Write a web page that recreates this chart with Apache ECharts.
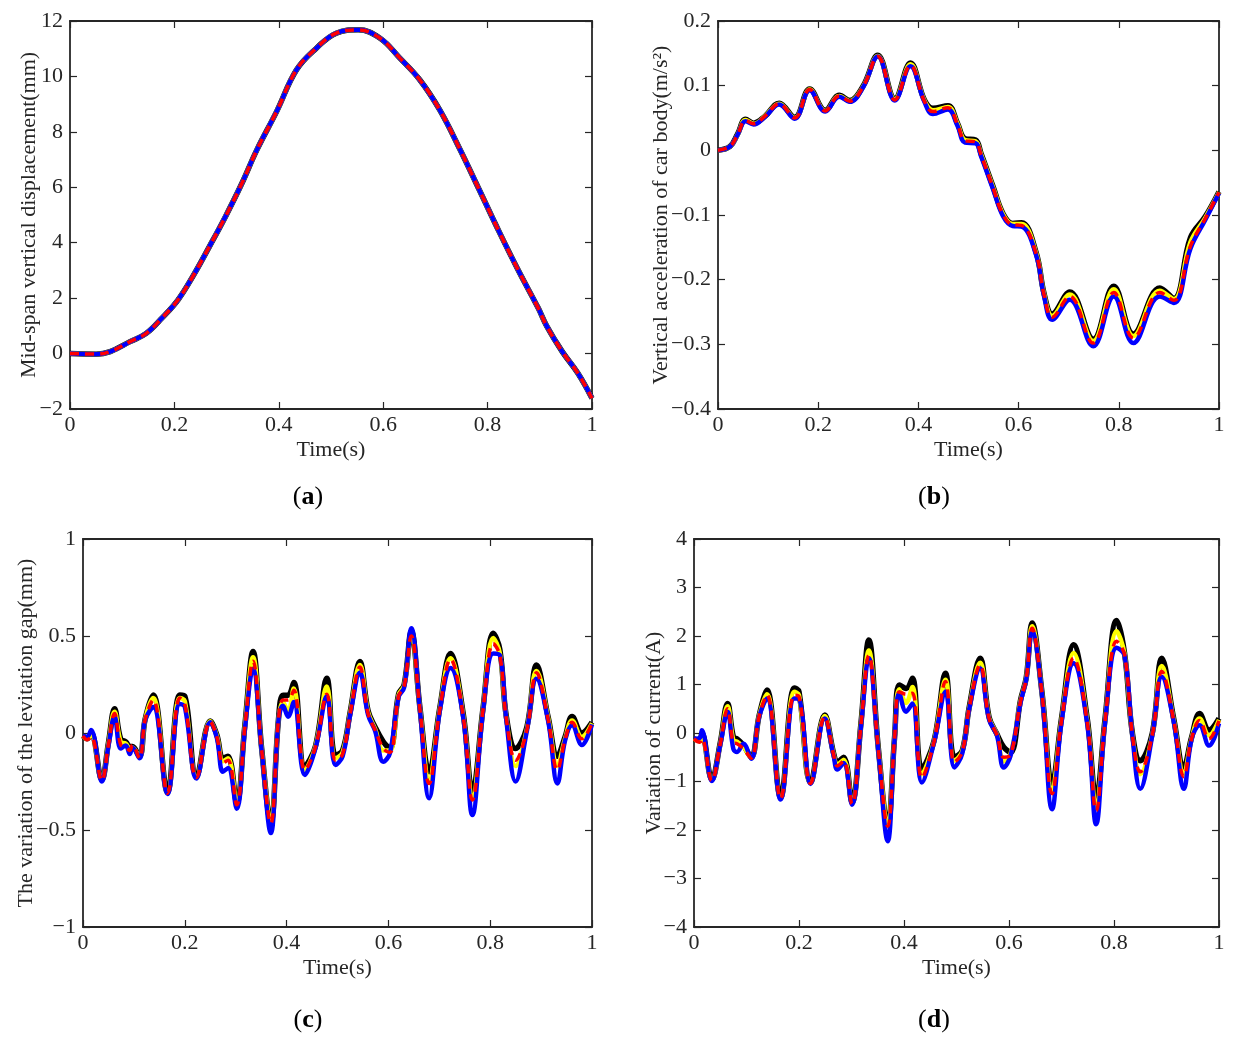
<!DOCTYPE html>
<html>
<head>
<meta charset="utf-8">
<title>Mid-span response</title>
<script src="https://cdn.jsdelivr.net/npm/echarts@6/dist/echarts.min.js"></script>
<style>
html,body{margin:0;padding:0;background:#fff;}
#chart{width:1236px;height:1045px;}
</style>
</head>
<body>
<div id="chart"></div>
<script>
// (a) mid-span displacement, all four curves coincide
var tA = [0, 0.05, 0.077, 0.115, 0.146, 0.176, 0.207, 0.237, 0.267, 0.298, 0.328, 0.358, 0.396, 0.434, 0.472, 0.51, 0.552, 0.594, 0.632, 0.67, 0.708, 0.746, 0.784, 0.822, 0.86, 0.897, 0.913, 0.943, 0.973, 1.0];
var dispA = [0, -0.02, 0.07, 0.43, 0.73, 1.28, 1.94, 2.84, 3.86, 4.95, 6.09, 7.35, 8.74, 10.24, 11.02, 11.56, 11.68, 11.38, 10.66, 9.88, 8.8, 7.41, 5.91, 4.4, 2.96, 1.64, 1.0, 0.07, -0.71, -1.61];

// (b) car body acceleration
var tB = [0, 0.024, 0.039, 0.055, 0.071, 0.094, 0.122, 0.153, 0.183, 0.214, 0.242, 0.263, 0.29, 0.319, 0.353, 0.384, 0.412, 0.429, 0.459, 0.478, 0.493, 0.514, 0.525, 0.549, 0.569, 0.588, 0.606, 0.635, 0.651, 0.667, 0.702, 0.749, 0.79, 0.829, 0.882, 0.91, 0.943, 0.973, 1.0];
var accBlack = [0, 0.006, 0.025, 0.048, 0.042, 0.053, 0.073, 0.051, 0.095, 0.062, 0.085, 0.077, 0.1, 0.147, 0.08, 0.135, 0.078, 0.065, 0.069, 0.042, 0.018, 0.016, -0.005, -0.056, -0.098, -0.113, -0.112, -0.158, -0.222, -0.253, -0.219, -0.292, -0.21, -0.284, -0.213, -0.229, -0.135, -0.102, -0.064];
var accYellow = [0, 0.006, 0.024, 0.047, 0.041, 0.053, 0.072, 0.05, 0.094, 0.061, 0.084, 0.076, 0.099, 0.146, 0.079, 0.133, 0.077, 0.062, 0.067, 0.041, 0.016, 0.014, -0.006, -0.057, -0.099, -0.114, -0.114, -0.159, -0.223, -0.256, -0.223, -0.295, -0.215, -0.287, -0.217, -0.23, -0.142, -0.104, -0.065];
var accRed = [0, 0.006, 0.024, 0.046, 0.041, 0.053, 0.072, 0.05, 0.094, 0.061, 0.084, 0.076, 0.099, 0.145, 0.078, 0.131, 0.076, 0.06, 0.066, 0.04, 0.015, 0.013, -0.007, -0.058, -0.1, -0.115, -0.116, -0.16, -0.224, -0.258, -0.226, -0.298, -0.22, -0.29, -0.22, -0.232, -0.148, -0.105, -0.065];
var accBlue = [0, 0.006, 0.024, 0.045, 0.04, 0.052, 0.071, 0.049, 0.093, 0.06, 0.083, 0.075, 0.098, 0.145, 0.077, 0.13, 0.075, 0.056, 0.063, 0.038, 0.012, 0.011, -0.009, -0.06, -0.102, -0.117, -0.118, -0.162, -0.226, -0.262, -0.231, -0.303, -0.226, -0.298, -0.226, -0.236, -0.152, -0.107, -0.066];

// (c) levitation gap variation
var tC = [0, 0.008, 0.016, 0.037, 0.05, 0.062, 0.074, 0.084, 0.092, 0.097, 0.111, 0.122, 0.138, 0.166, 0.19, 0.2, 0.223, 0.25, 0.263, 0.275, 0.285, 0.302, 0.318, 0.334, 0.351, 0.369, 0.384, 0.393, 0.403, 0.414, 0.436, 0.457, 0.479, 0.496, 0.51, 0.525, 0.544, 0.56, 0.574, 0.59, 0.603, 0.62, 0.631, 0.645, 0.662, 0.68, 0.701, 0.722, 0.747, 0.765, 0.786, 0.806, 0.819, 0.832, 0.85, 0.872, 0.891, 0.914, 0.932, 0.947, 0.961, 0.98, 1.0];
var gapBlack = [-0.015, -0.03, 0, -0.24, -0.05, 0.125, -0.03, -0.045, -0.07, -0.07, -0.12, 0.07, 0.196, -0.305, 0.196, 0.19, -0.225, 0.062, -0.01, -0.13, -0.12, -0.36, 0.04, 0.42, -0.08, -0.46, 0.07, 0.195, 0.195, 0.26, -0.17, -0.065, 0.282, -0.115, -0.09, 0.11, 0.368, 0.115, 0.03, -0.045, -0.08, 0.2, 0.25, 0.525, 0.13, -0.2, 0.13, 0.41, 0.1, -0.3, 0.13, 0.514, 0.43, 0.08, -0.08, 0.03, 0.35, 0.08, -0.12, -0.02, 0.085, 0, 0.055];
var gapYellow = [-0.015, -0.03, -0.01, -0.243, -0.055, 0.11, -0.045, -0.055, -0.08, -0.075, -0.125, 0.068, 0.18, -0.308, 0.18, 0.165, -0.228, 0.06, -0.015, -0.145, -0.13, -0.365, 0.035, 0.39, -0.085, -0.465, 0.068, 0.16, 0.11, 0.23, -0.19, -0.068, 0.24, -0.13, -0.1, 0.105, 0.35, 0.108, 0.02, -0.09, -0.09, 0.195, 0.245, 0.51, 0.125, -0.24, 0.125, 0.385, 0.09, -0.34, 0.125, 0.49, 0.41, 0.07, -0.17, 0.02, 0.32, 0.075, -0.17, -0.03, 0.065, -0.02, 0.05];
var gapRed = [-0.015, -0.035, -0.02, -0.245, -0.06, 0.1, -0.06, -0.075, -0.09, -0.062, -0.13, 0.067, 0.17, -0.31, 0.18, 0.15, -0.23, 0.058, -0.02, -0.155, -0.14, -0.37, 0.03, 0.37, -0.088, -0.465, 0.067, 0.17, 0.17, 0.22, -0.19, -0.07, 0.2, -0.14, -0.11, 0.1, 0.34, 0.1, 0.015, -0.08, -0.1, 0.19, 0.24, 0.5, 0.12, -0.26, 0.12, 0.38, 0.085, -0.345, 0.12, 0.46, 0.4, 0.067, -0.14, 0.015, 0.31, 0.067, -0.19, -0.036, 0.055, -0.03, 0.05];
var gapBlue = [-0.015, -0.02, 0.015, -0.25, -0.065, 0.085, -0.08, -0.065, -0.108, -0.075, -0.13, 0.065, 0.134, -0.315, 0.15, 0.135, -0.235, 0.055, -0.025, -0.2, -0.18, -0.39, 0.02, 0.33, -0.09, -0.516, 0.065, 0.14, 0.084, 0.16, -0.216, -0.075, 0.19, -0.165, -0.12, 0.095, 0.31, 0.095, 0.01, -0.148, -0.104, 0.185, 0.235, 0.54, 0.118, -0.336, 0.115, 0.335, 0.08, -0.423, 0.115, 0.41, 0.4, 0.06, -0.25, 0.01, 0.28, 0.06, -0.26, -0.04, 0.04, -0.062, 0.045];

// (d) current variation
var tD = [0, 0.011, 0.015, 0.034, 0.05, 0.064, 0.075, 0.082, 0.094, 0.109, 0.124, 0.139, 0.165, 0.191, 0.2, 0.222, 0.249, 0.266, 0.273, 0.285, 0.301, 0.318, 0.333, 0.351, 0.369, 0.382, 0.391, 0.404, 0.416, 0.434, 0.457, 0.479, 0.496, 0.511, 0.524, 0.545, 0.562, 0.577, 0.59, 0.603, 0.622, 0.633, 0.644, 0.663, 0.682, 0.7, 0.723, 0.749, 0.766, 0.783, 0.805, 0.82, 0.835, 0.85, 0.873, 0.891, 0.914, 0.933, 0.948, 0.963, 0.981, 1.0];
var curBlack = [-0.12, -0.15, 0, -0.96, -0.2, 0.61, -0.08, -0.12, -0.25, -0.5, 0.36, 0.885, -1.33, 0.93, 0.85, -1.02, 0.37, -0.42, -0.6, -0.5, -1.43, 0.2, 1.92, -0.3, -1.9, -0.1, 0.99, 0.92, 1.13, -0.74, -0.17, 1.23, -0.5, -0.36, 0.52, 1.54, 0.33, -0.02, -0.29, -0.4, 0.68, 1.15, 2.27, 0.82, -1.05, 0.3, 1.82, 0.3, -1.33, 0.3, 2.32, 1.65, 0, -0.57, 0, 1.54, 0.28, -0.7, -0.08, 0.4, 0.06, 0.3];
var curYellow = [-0.12, -0.17, -0.05, -0.97, -0.22, 0.55, -0.15, -0.18, -0.28, -0.51, 0.35, 0.8, -1.34, 0.85, 0.78, -1.03, 0.35, -0.44, -0.65, -0.55, -1.45, 0.18, 1.7, -0.32, -1.92, -0.11, 0.9, 0.62, 0.95, -0.85, -0.18, 1.1, -0.57, -0.38, 0.5, 1.45, 0.31, -0.03, -0.58, -0.43, 0.66, 1.14, 2.2, 0.8, -1.2, 0.27, 1.65, 0.25, -1.55, 0.26, 2.1, 1.63, -0.03, -0.85, -0.03, 1.38, 0.25, -0.85, -0.1, 0.3, -0.05, 0.27];
var curRed = [-0.12, -0.19, -0.12, -0.98, -0.23, 0.5, -0.2, -0.22, -0.32, -0.52, 0.34, 0.78, -1.35, 0.78, 0.75, -1.04, 0.33, -0.45, -0.68, -0.58, -1.46, 0.16, 1.6, -0.33, -1.92, -0.12, 0.85, 0.8, 0.82, -0.92, -0.19, 1.06, -0.6, -0.39, 0.5, 1.4, 0.3, -0.04, -0.5, -0.45, 0.65, 1.13, 2.16, 0.79, -1.25, 0.25, 1.54, 0.22, -1.6, 0.24, 1.89, 1.62, -0.04, -0.8, -0.04, 1.27, 0.24, -0.9, -0.11, 0.26, -0.12, 0.25];
var curBlue = [-0.12, -0.1, 0.055, -0.99, -0.24, 0.44, -0.33, -0.39, -0.22, -0.53, 0.33, 0.71, -1.37, 0.71, 0.7, -1.05, 0.3, -0.47, -0.75, -0.62, -1.48, 0.14, 1.54, -0.35, -2.23, -0.13, 0.82, 0.44, 0.61, -1.02, -0.2, 0.85, -0.71, -0.42, 0.48, 1.33, 0.28, -0.05, -0.71, -0.47, 0.63, 1.12, 2.1, 0.78, -1.57, 0.22, 1.44, 0.19, -1.88, 0.22, 1.76, 1.6, -0.05, -1.15, -0.05, 1.16, 0.22, -1.15, -0.12, 0.16, -0.26, 0.2];

var FONT = 'Liberation Serif';
var INK = '#262626';

var panels = [
	{box:[70,21,522,388], t:tA, lines:[dispA,dispA,dispA,dispA], min:-2, max:12, step:2, name:'Mid-span vertical displacement(mm)', gap:30, tag:'a', tagPos:[308,497]},
	{box:[718,21,501,388], t:tB, lines:[accBlack,accYellow,accBlue,accRed], min:-0.4, max:0.2, step:0.1, name:'Vertical acceleration of car body(m/s\u00b2)', gap:46, tag:'b', tagPos:[934,497]},
	{box:[83,539,509,388], t:tC, lines:[gapBlack,gapYellow,gapBlue,gapRed], min:-1, max:1, step:0.5, name:'The variation of the levitation gap(mm)', gap:46, tag:'c', tagPos:[308,1020]},
	{box:[694,539,525,388], t:tD, lines:[curBlack,curYellow,curBlue,curRed], min:-4, max:4, step:1, name:'Variation of current(A)', gap:29, tag:'d', tagPos:[934,1020]}
];

// black, yellow, blue, red dashed (drawn in that order)
var lineStyles = [
	{color:'#000000', width:5.5, type:'solid'},
	{color:'#ffff00', width:4.5, type:'solid'},
	{color:'#0000ff', width:4.5, type:'solid'},
	{color:'#ff0000', width:3.5, type:[9,6]}
];

function fmt(v){
	return String(+v.toFixed(2)).replace('-', '\u2212');
}

function zip(t, v){
	var out = [];
	for(var i=0;i<t.length;i++){
		out.push([t[i], v[i]]);
	}
	return out;
}

var grids = [], xAxes = [], yAxes = [], series = [], texts = [];
var axisLine = {show:true, onZero:false, lineStyle:{color:INK, width:1.8}};
var tick = {show:true, inside:true, length:7, lineStyle:{color:INK, width:1.2}};

for(var p=0;p<panels.length;p++){
	var pn = panels[p];
	grids.push({left:pn.box[0], top:pn.box[1], width:pn.box[2], height:pn.box[3]});
	//bottom and top x axis
	xAxes.push({
		type:'value', gridIndex:p, position:'bottom', min:0, max:1, interval:0.2,
		axisLine:axisLine, axisTick:tick, splitLine:{show:false},
		axisLabel:{fontFamily:FONT, fontSize:22, color:INK, margin:5, formatter:fmt},
		name:'Time(s)', nameLocation:'middle', nameGap:30, nameMoveOverlap:false,
		nameTextStyle:{fontFamily:FONT, fontSize:22, color:INK}
	});
	xAxes.push({
		type:'value', gridIndex:p, position:'top', min:0, max:1, interval:0.2,
		axisLine:axisLine, axisTick:tick, splitLine:{show:false}, axisLabel:{show:false}
	});
	//left and right y axis
	yAxes.push({
		type:'value', gridIndex:p, position:'left', min:pn.min, max:pn.max, interval:pn.step,
		axisLine:axisLine, axisTick:tick, splitLine:{show:false},
		axisLabel:{fontFamily:FONT, fontSize:22, color:INK, margin:7, formatter:fmt},
		name:pn.name, nameLocation:'middle', nameGap:pn.gap, nameRotate:90, nameMoveOverlap:false,
		nameTextStyle:{fontFamily:FONT, fontSize:22, color:INK}
	});
	yAxes.push({
		type:'value', gridIndex:p, position:'right', min:pn.min, max:pn.max, interval:pn.step,
		axisLine:axisLine, axisTick:tick, splitLine:{show:false}, axisLabel:{show:false}
	});
	for(var s=0;s<4;s++){
		series.push({
			type:'line', xAxisIndex:p*2, yAxisIndex:p*2, data:zip(pn.t, pn.lines[s]),
			showSymbol:false, symbol:'none', smooth:0.4,
			lineStyle:lineStyles[s], z:2+s
		});
	}
	texts.push({
		type:'text', x:pn.tagPos[0], y:pn.tagPos[1],
		style:{text:'({b|' + pn.tag + '})', fontFamily:FONT, fontSize:26, fill:'#000',
			align:'center', verticalAlign:'middle',
			rich:{b:{fontFamily:FONT, fontSize:26, fontWeight:'bold', fill:'#000'}}}
	});
}

var myChart = echarts.init(document.getElementById('chart'));
myChart.setOption({
	backgroundColor:'#ffffff',
	animation:false,
	grid:grids,
	xAxis:xAxes,
	yAxis:yAxes,
	series:series,
	graphic:texts
});
</script>
</body>
</html>
